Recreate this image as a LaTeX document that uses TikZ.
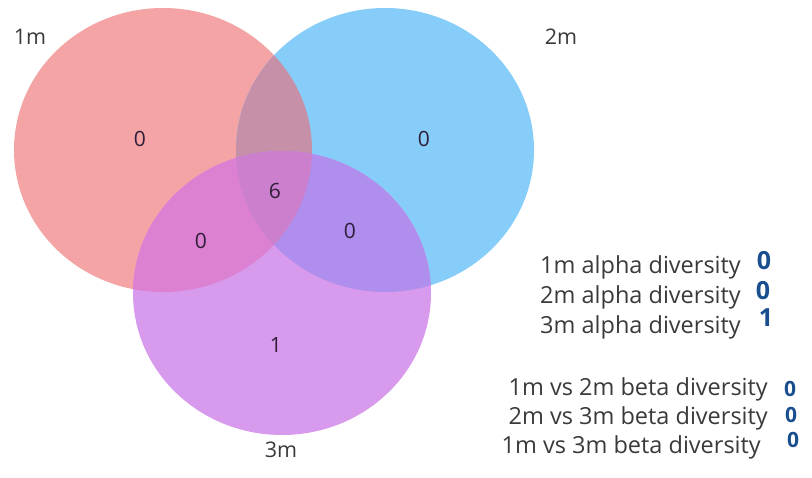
\documentclass[tikz,border=0pt]{standalone}
\usepackage{fontspec}
\setmainfont{Open Sans}
\definecolor{redc}{HTML}{F4A4A4}
\definecolor{bluec}{HTML}{87CDF9}
\definecolor{purc}{HTML}{D89AEC}
\definecolor{rbc}{HTML}{C690A8}
\definecolor{rpc}{HTML}{DC80D2}
\definecolor{bpc}{HTML}{B08EEE}
\definecolor{rbpc}{HTML}{CC7FCC}
\definecolor{txt}{HTML}{3A3A3A}
\definecolor{cnt}{HTML}{2E1E38}
\definecolor{pen}{HTML}{1A4F8F}
\begin{document}
\begin{tikzpicture}[x=1pt,y=-1pt,
  setlabel/.style={font=\fontsize{21.5}{21.5}\selectfont, text=txt, inner sep=0pt},
  count/.style={font=\fontsize{21}{21}\selectfont, text=cnt, inner sep=0pt},
  listtxt/.style={font=\fontsize{23.5}{23.5}\selectfont, text=txt, inner sep=0pt},
  hand/.style={font=\bfseries\fontsize{25}{25}\selectfont, text=pen, inner sep=0pt},
  handsm/.style={font=\bfseries\fontsize{21}{21}\selectfont, text=pen, inner sep=0pt}]
\useasboundingbox (0,0) rectangle (812,478);
\fill[white] (0,0) rectangle (812,478);
\def\shR{(163,150) ellipse [x radius=149pt, y radius=142pt]}
\def\shB{(385,150) ellipse [x radius=149pt, y radius=142pt]}
\def\shP{(282,293) ellipse [x radius=149pt, y radius=142pt]}
\fill[redc] \shR;
\fill[bluec] \shB;
\fill[purc] \shP;
\begin{scope}\clip \shR; \fill[rbc] \shB;\end{scope}
\begin{scope}\clip \shR; \fill[rpc] \shP;\end{scope}
\begin{scope}\clip \shB; \fill[bpc] \shP;\end{scope}
\begin{scope}\clip \shR; \clip \shB; \fill[rbpc] \shP;\end{scope}
% set labels
\node[setlabel] (l1) at (30,37) {1m};
\node[setlabel] (l2) at (561,37) {2m};
\node[setlabel] (l3) at (281,450) {3m};
% counts
\node[count] (c1) at (140,139) {0};
\node[count] (c2) at (424,139) {0};
\node[count] (c123) at (275,191) {6};
\node[count] (c13) at (201,241) {0};
\node[count] (c23) at (350,231) {0};
\node[count] (c3) at (276,345) {1};
% list
\node[listtxt, anchor=east] (a1) at (741,267) {1m alpha diversity};
\node[listtxt, anchor=east] (a2) at (741,297) {2m alpha diversity};
\node[listtxt, anchor=east] (a3) at (741,327) {3m alpha diversity};
\node[listtxt, anchor=east] (b1) at (768,389) {1m vs 2m beta diversity};
\node[listtxt, anchor=east] (b2) at (768,418) {2m vs 3m beta diversity};
\node[listtxt, anchor=east] (b3) at (761,447) {1m vs 3m beta diversity};
% handwritten values
\node[hand] (h1) at (764,261) {0};
\node[hand] (h2) at (763,291) {0};
\node[hand] (h3) at (766,318) {1};
\node[handsm] (h4) at (790,389) {0};
\node[handsm] (h5) at (791,415) {0};
\node[handsm] (h6) at (793,440) {0};
\end{tikzpicture}
\end{document}
